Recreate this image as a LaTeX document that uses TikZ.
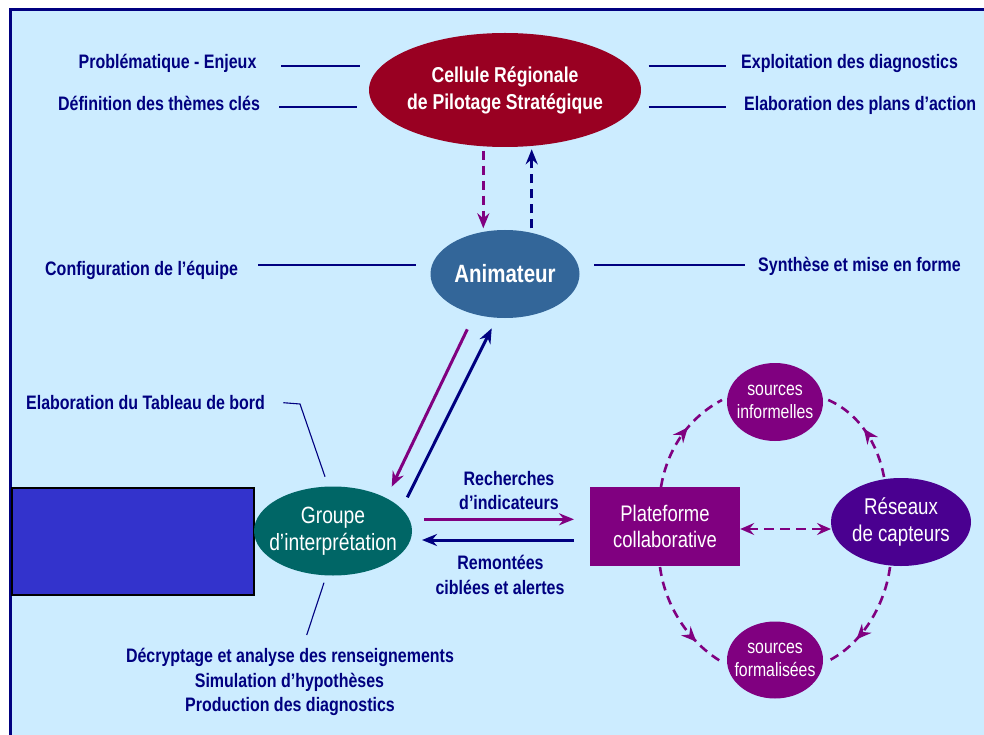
\documentclass[tikz,border=0pt]{standalone}
\usepackage{fontspec}
\setmainfont{Liberation Sans}[FakeStretch=0.82]
\usetikzlibrary{arrows.meta,shapes.geometric,decorations.markings}

\definecolor{bgblue}{HTML}{CCECFF}
\definecolor{navy}{HTML}{000080}
\definecolor{plum}{HTML}{800080}
\definecolor{wine}{HTML}{990022}
\definecolor{steel}{HTML}{336699}
\definecolor{deepteal}{HTML}{006666}
\definecolor{indigoink}{HTML}{4A0090}
\definecolor{royal}{HTML}{3333CC}

\begin{document}
\begin{tikzpicture}[x=1pt,y=-1pt,
  lab/.style={text=navy, font=\fontsize{19.5}{24.5}\selectfont\bfseries, inner sep=0pt},
  lline/.style={draw=navy, line width=2pt},
  thinline/.style={draw=navy, line width=1.1pt},
  blob/.style={ellipse, inner sep=0pt, outer sep=0pt, draw=none},
  intext/.style={text=white, align=center, inner sep=0pt},
  tip/.style={-{Stealth[length=15pt,width=12pt,inset=5pt]}},
  solidarrow/.style={tip, line width=3pt},
  dasharrow/.style={tip, line width=2.6pt, dash pattern=on 9pt off 6pt},
  loopline/.style={draw=plum, line width=2.6pt, dash pattern=on 9pt off 6pt,
    postaction={decorate},
    decoration={markings, mark=at position #1 with {\arrow[plum]{Stealth[length=15pt,width=13pt,inset=5pt]}}}},
]
\useasboundingbox (0,0) rectangle (984,735);
\fill[white] (0,0) rectangle (984,735);
\fill[bgblue] (10,10) rectangle (984,735);
\draw[navy, line width=2.8pt] (10.4,735) -- (10.4,9.9) -- (984,9.9);

% central steering cell
\node[blob, fill=wine, minimum width=272pt, minimum height=114pt,
  label={[intext, font=\fontsize{21.5}{27}\selectfont\bfseries]center:{Cellule Régionale\\de Pilotage Stratégique}}]
  (cel) at (505,90) {};

% facilitator
\node[blob, fill=steel, minimum width=149pt, minimum height=88pt,
  label={[intext, font=\fontsize{25}{30}\selectfont\bfseries]center:Animateur}]
  (ani) at (505,274) {};

% dashboard block and interpretation group
\node[draw=black, line width=2pt, fill=royal, minimum width=242pt, minimum height=106.5pt,
  inner sep=0pt] (tab) at (132.9,541.7) {};
\node[blob, fill=deepteal, minimum width=158pt, minimum height=89pt,
  label={[intext, font=\fontsize{23.5}{27}\selectfont]center:{Groupe\\d’interprétation}}]
  (grp) at (333,531) {};

% collaborative platform
\node[fill=plum, minimum width=150pt, minimum height=79pt, inner sep=0pt,
  label={[intext, font=\fontsize{22.5}{25.6}\selectfont]center:{Plateforme\\collaborative}}]
  (pla) at (665,526.5) {};

% sensor network and sources
\node[blob, fill=indigoink, minimum width=140pt, minimum height=88pt,
  label={[intext, font=\fontsize{22.8}{26.3}\selectfont]center:{Réseaux\\de capteurs}}]
  (res) at (901,522) {};
\node[blob, fill=plum, minimum width=96pt, minimum height=78pt,
  label={[intext, font=\fontsize{19.3}{22.7}\selectfont]center:{sources\\informelles}}]
  (inf) at (775,402) {};
\node[blob, fill=plum, minimum width=96pt, minimum height=77pt,
  label={[intext, font=\fontsize{19.3}{22.7}\selectfont]center:{sources\\formalisées}}]
  (frm) at (775,660) {};

% side labels
\node[lab, anchor=base west] (prob) at (78.5,69) {Problématique - Enjeux};
\node[lab, anchor=base west] (defi) at (58,110.7) {Définition des thèmes clés};
\node[lab, anchor=base west] (expl) at (741,69) {Exploitation des diagnostics};
\node[lab, anchor=base west] (elab) at (744,110.7) {Elaboration des plans d’action};
\node[lab, anchor=base west] (conf) at (45,275) {Configuration de l’équipe};
\node[lab, anchor=base west] (synt) at (758,271) {Synthèse et mise en forme};
\node[lab, anchor=base west] (tabl) at (26,409) {Elaboration du Tableau de bord};
\node[lab, anchor=base] (dec1) at (290,662.7) {Décryptage et analyse des renseignements};
\node[lab, anchor=base] (dec2) at (289.5,687.3) {Simulation d’hypothèses};
\node[lab, anchor=base] (dec3) at (290,711.7) {Production des diagnostics};
\node[lab, anchor=base] (rec1) at (509,485) {Recherches};
\node[lab, anchor=base] (rec2) at (509,509) {d’indicateurs};
\node[lab, anchor=base] (rem1) at (500.5,569) {Remontées};
\node[lab, anchor=base] (rem2) at (500,594) {ciblées et alertes};

% leader lines
\coordinate (p1a) at (281,65.7);   \coordinate (p1b) at (360,65.7);
\coordinate (p2a) at (279,106.7);  \coordinate (p2b) at (356.6,106.7);
\coordinate (p3a) at (648.5,65.7); \coordinate (p3b) at (726,65.7);
\coordinate (p4a) at (648.5,106.7);\coordinate (p4b) at (726,106.7);
\coordinate (c1a) at (258,265);    \coordinate (c1b) at (415.7,265);
\coordinate (s1a) at (594,265);    \coordinate (s1b) at (745,265);
\draw[lline] (p1a) -- (p1b);
\draw[lline] (p2a) -- (p2b);
\draw[lline] (p3a) -- (p3b);
\draw[lline] (p4a) -- (p4b);
\draw[lline] (c1a) -- (c1b);
\draw[lline] (s1a) -- (s1b);
\coordinate (t1) at (283.3,402.7);
\coordinate (t2) at (300,404);
\coordinate (t3) at (325,476.7);
\draw[thinline] (t1) -- (t2) -- (t3);
\coordinate (d1) at (324,582.7);
\coordinate (d2) at (306.7,635);
\draw[thinline] (d1) -- (d2);

% cell <-> facilitator
\coordinate (cdown1) at (483.3,150.7); \coordinate (cdown2) at (483.3,228.3);
\coordinate (cup1) at (531.7,228.3);   \coordinate (cup2) at (531.7,149.3);
\draw[dasharrow, plum] (cdown1) -- (cdown2);
\draw[dasharrow, navy] (cup1) -- (cup2);

% facilitator <-> group
\coordinate (ag1) at (467.3,329.3); \coordinate (ag2) at (391.7,486.7);
\coordinate (ga1) at (407.3,497.3); \coordinate (ga2) at (491.7,328.3);
\draw[solidarrow, plum] (ag1) -- (ag2);
\draw[solidarrow, navy] (ga1) -- (ga2);

% group <-> platform
\coordinate (gp1) at (424,519.3); \coordinate (gp2) at (574,519.3);
\coordinate (pg1) at (574,540);   \coordinate (pg2) at (422,540);
\draw[solidarrow, plum] (gp1) -- (gp2);
\draw[solidarrow, navy] (pg1) -- (pg2);

% platform <-> sensor network
\draw[plum, line width=2.6pt, dash pattern=on 10pt off 6pt,
  {Stealth[length=14pt,width=12pt,inset=5pt]}-{Stealth[length=14pt,width=12pt,inset=5pt]}]
  (pla.east |- 0,529) -- (res.west |- 0,529);

% loop through the sources
\coordinate (l1a) at (661,487); \coordinate (l1b) at (722,400);
\coordinate (l2a) at (884,477); \coordinate (l2b) at (826,399);
\coordinate (l3a) at (660,567); \coordinate (l3b) at (722,662);
\coordinate (l4a) at (890,567); \coordinate (l4b) at (826,662);
\draw[loopline=0.6] (l1a) .. controls (667,450) and (688,418) .. (l1b);
\draw[loopline=0.52] (l2a) .. controls (878,445) and (860,413) .. (l2b);
\draw[loopline=0.72] (l3a) .. controls (665,605) and (688,642) .. (l3b);
\draw[loopline=0.68] (l4a) .. controls (885,605) and (862,645) .. (l4b);
\end{tikzpicture}
\end{document}
